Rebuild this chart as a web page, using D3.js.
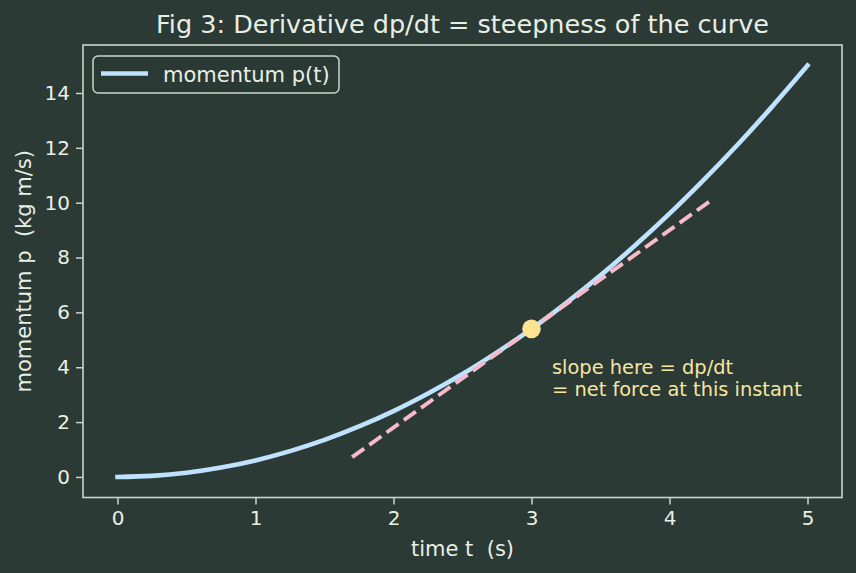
<!DOCTYPE html>
<html><head><meta charset="utf-8">
<script src="https://cdn.jsdelivr.net/npm/d3@7"></script>
<style>html,body{margin:0;padding:0;background:#2b3a35;}svg{display:block;font-family:"DejaVu Sans",sans-serif;}text{white-space:pre;}</style>
</head><body>
<svg id="c" width="856" height="573"></svg>
<script>
const timeValues = [0,0.25,0.5,0.75,1,1.25,1.5,1.75,2,2.25,2.5,2.75,3,3.25,3.5,3.75,4,4.25,4.5,4.75,5];
const momentumValues = [0,0.04,0.15,0.34,0.6,0.94,1.35,1.84,2.4,3.04,3.75,4.54,5.4,6.34,7.35,8.44,9.6,10.84,12.15,13.54,15.0];
const tangentT = [1.7, 4.3];
const tangentP = [0.72, 10.08];
const markT = [3];
const markP = [5.4];
const xTicks = [0,1,2,3,4,5];
const yTicks = [0,2,4,6,8,10,12,14];
const titleText = "Fig 3: Derivative dp/dt = steepness of the curve";
const xLabel = "time t  (s)";
const yLabel = "momentum p  (kg m/s)";
const legendLabel = "momentum p(t)";
const noteLines = ["slope here = dp/dt", "= net force at this instant"];

const svg = d3.select("#c");
const L=83, R=842, T=45, B=497.5;
const fg="#e8efe6", spine="#c9d6cc";
const x = d3.scaleLinear().domain([-0.25,5.25]).range([L,R]);
const y = d3.scaleLinear().domain([-0.75,15.75]).range([B,T]);

svg.append("rect").attr("width",856).attr("height",573).attr("fill","#2b3a35");

// axes
const xa = svg.append("g").attr("transform",`translate(0,${B})`)
  .call(d3.axisBottom(x).tickValues(xTicks).tickFormat(d3.format("d")).tickSize(7).tickPadding(6));
const ya = svg.append("g").attr("transform",`translate(${L},0)`)
  .call(d3.axisLeft(y).tickValues(yTicks).tickFormat(d3.format("d")).tickSize(7).tickPadding(6));
[xa,ya].forEach(g=>{
  g.select(".domain").remove();
  g.selectAll(".tick line").attr("stroke",spine).attr("stroke-width",1.5);
  g.selectAll(".tick text").attr("fill",fg).attr("font-size",20).attr("font-family","DejaVu Sans");
});
svg.append("rect").attr("x",L).attr("y",T).attr("width",R-L).attr("height",B-T)
  .attr("fill","none").attr("stroke",spine).attr("stroke-width",1.6);

// curve
const pts = timeValues.map((t,i)=>[t,momentumValues[i]]);
svg.append("path").datum(pts)
  .attr("d",d3.line().x(d=>x(d[0])).y(d=>y(d[1])).curve(d3.curveCatmullRom))
  .attr("fill","none").attr("stroke","#bfe2ff").attr("stroke-width",4.6).attr("stroke-linecap","square");

// tangent
const tp = tangentT.map((t,i)=>[t,tangentP[i]]);
svg.append("path").datum(tp)
  .attr("d",d3.line().x(d=>x(d[0])).y(d=>y(d[1])))
  .attr("fill","none").attr("stroke","#f7b9cc").attr("stroke-width",3.9)
  .attr("stroke-dasharray","14.8,6.4");

// marker
svg.selectAll("circle.m").data(markT.map((t,i)=>[t,markP[i]])).enter().append("circle")
  .attr("cx",d=>x(d[0])).attr("cy",d=>y(d[1])).attr("r",9.3).attr("fill","#ffe394");

// annotation
const note = svg.append("text").attr("x",552).attr("y",374).attr("fill","#f6e6a2")
  .attr("font-size",19.4).attr("font-family","DejaVu Sans");
noteLines.forEach((s,i)=>note.append("tspan").attr("x",552).attr("dy",i?21.5:0).text(s));

// title and labels
svg.append("text").attr("x",(L+R)/2).attr("y",33).attr("text-anchor","middle")
  .attr("fill",fg).attr("font-size",25.5).text(titleText);
svg.append("text").attr("x",(L+R)/2).attr("y",556).attr("text-anchor","middle")
  .attr("fill",fg).attr("font-size",21).text(xLabel);
svg.append("text").attr("transform",`translate(31,${(T+B)/2}) rotate(-90)`).attr("text-anchor","middle")
  .attr("fill",fg).attr("font-size",21).text(yLabel);

// legend
svg.append("rect").attr("x",93).attr("y",56).attr("width",246).attr("height",37).attr("rx",5)
  .attr("fill","#2b3a35").attr("fill-opacity",0.8).attr("stroke","#c9d6cc").attr("stroke-width",1.5);
svg.append("line").attr("x1",101).attr("x2",148).attr("y1",73.5).attr("y2",73.5)
  .attr("stroke","#bfe2ff").attr("stroke-width",4.6);
svg.append("text").attr("x",163).attr("y",81.5).attr("fill",fg).attr("font-size",21).text(legendLabel);
</script>
</body></html>
